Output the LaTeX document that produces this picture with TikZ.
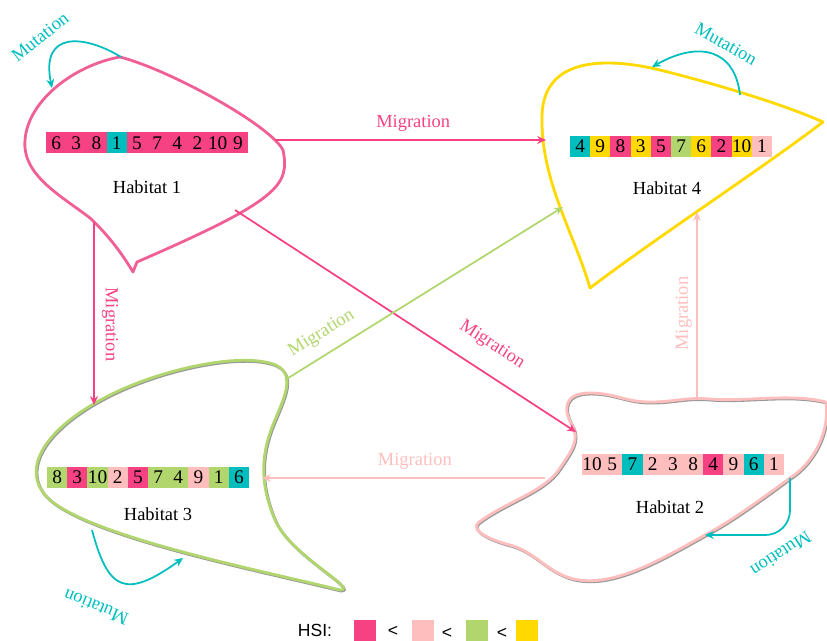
\documentclass[tikz,border=0pt]{standalone}
\usepackage{fontspec}
\setmainfont{Liberation Serif}
\newfontfamily\hsifont{Liberation Sans}
\usetikzlibrary{arrows.meta}

\definecolor{hsipink}{RGB}{246,66,130}
\definecolor{hsilight}{RGB}{255,190,190}
\definecolor{hsigreen}{RGB}{178,214,110}
\definecolor{hsiyellow}{RGB}{255,217,0}
\definecolor{mutcolor}{RGB}{0,190,190}
\definecolor{habitatpink}{RGB}{240,96,150}

\newcommand{\genestrip}[4]{%
    \foreach \val/\col [count=\i] in {#4}
        \node[gen, fill=\col] (#1-\i) at ({#2+(\i-0.5)*20.2}, #3) {\val};
}

\begin{document}
\begin{tikzpicture}[
    x=0.02cm,
    y=-0.02cm,
    font=\fontsize{10.5}{12}\selectfont,
    gen/.style={
        minimum width=0.404cm,
        minimum height=0.42cm,
        inner sep=0pt,
        font=\fontsize{11}{12}\selectfont
    },
    habitat/.style={line width=1.6pt, line join=round},
    shadowed/.style={
        preaction={draw=black!40, line width=1.6pt,
            transform canvas={shift={(0.5pt,-0.6pt)}}}
    },
    migra/.style={-{Stealth[length=5pt,width=4.5pt]}, line width=1pt},
    mut/.style={-{Stealth[length=5pt,width=4.5pt]}, line width=1pt, draw=mutcolor},
    muttxt/.style={text=mutcolor},
    swatch/.style={minimum width=0.44cm, minimum height=0.42cm, inner sep=0pt}
]
    \useasboundingbox (0,0) rectangle (827,641);

    \draw[habitat, draw=habitatpink] (133,272)
        .. controls (120,250) and (105,232) .. (90,218)
        .. controls (60,195) and (22,175) .. (25,140)
        .. controls (28,100) and (75,65) .. (120,57)
        .. controls (170,70) and (270,125) .. (283,150)
        .. controls (290,185) and (280,200) .. (137,262)
        -- cycle;
    \draw[habitat, draw=hsiyellow] (590,288)
        .. controls (575,235) and (540,180) .. (542,115)
        .. controls (544,55) and (610,58) .. (660,70)
        .. controls (720,85) and (785,105) .. (823,122)
        .. controls (760,170) and (660,235) .. (590,288)
        -- cycle;
    \draw[habitat, shadowed, draw=hsigreen] (340,590)
        .. controls (260,570) and (80,535) .. (45,495)
        .. controls (20,465) and (50,425) .. (110,395)
        .. controls (160,370) and (230,355) .. (265,362)
        .. controls (300,368) and (285,395) .. (275,420)
        .. controls (262,450) and (258,480) .. (275,520)
        .. controls (290,555) and (360,590) .. (340,590)
        -- cycle;
    \draw[habitat, shadowed, draw=hsilight] (478,523)
        .. controls (505,502) and (545,492) .. (560,468)
        .. controls (572,450) and (580,440) .. (572,425)
        .. controls (562,408) and (565,393) .. (590,393)
        .. controls (615,393) and (625,402) .. (650,402)
        .. controls (675,402) and (685,397) .. (710,399)
        .. controls (745,402) and (790,393) .. (826,402)
        .. controls (830,430) and (815,462) .. (790,478)
        .. controls (760,500) and (730,522) .. (705,535)
        .. controls (660,560) and (610,590) .. (570,578)
        .. controls (545,570) and (535,552) .. (510,545)
        .. controls (490,540) and (470,530) .. (478,523)
        -- cycle;

    \genestrip{gen1}{46}{143}{6/hsipink,3/hsipink,8/hsipink,1/mutcolor,5/hsipink,7/hsipink,4/hsipink,2/hsipink,10/hsipink,9/hsipink}
    \genestrip{gen4}{570}{146.5}{4/mutcolor,9/hsiyellow,8/hsipink,3/hsiyellow,5/hsipink,7/hsigreen,6/hsiyellow,2/hsipink,10/hsiyellow,1/hsilight}
    \genestrip{gen3}{47}{477.5}{8/hsigreen,3/hsipink,10/hsigreen,2/hsilight,5/hsipink,7/hsigreen,4/hsigreen,9/hsilight,1/hsigreen,6/mutcolor}
    \genestrip{gen2}{582}{464.5}{10/hsilight,5/hsilight,7/mutcolor,2/hsilight,3/hsilight,8/hsilight,4/hsipink,9/hsilight,6/mutcolor,1/hsilight}

    \node (habitat1) at (147,187) {Habitat 1};
    \node (habitat4) at (667,188) {Habitat 4};
    \node (habitat3) at (158,514) {Habitat 3};
    \node (habitat2) at (670,507) {Habitat 2};

    \coordinate (h1-east) at (275,140);
    \coordinate (h1-south) at (94,222);
    \coordinate (h1-se) at (235,210);
    \coordinate (h4-west) at (546,140);
    \coordinate (h4-sw) at (563,207);
    \coordinate (h4-south) at (697,212);
    \coordinate (h3-north) at (94,405);
    \coordinate (h3-ne) at (285,380);
    \coordinate (h3-east) at (262,478);
    \coordinate (h2-nw) at (576,432);
    \coordinate (h2-west) at (545,478);
    \coordinate (h2-north) at (697,400);

    \draw[migra, hsipink] (h1-east) -- node[pos=0.51, above=1pt] {Migration} (h4-west);
    \draw[migra, hsipink] (h1-south) -- node[pos=0.56, rotate=-90, anchor=south, inner sep=4pt] {Migration} (h3-north);
    \draw[migra, hsipink] (h1-se) -- node[pos=0.71, sloped, above=7pt] {Migration} (h2-nw);
    \draw[migra, hsigreen] (h3-ne) -- node[pos=0.17, sloped, above=3pt] {Migration} (h4-sw);
    \draw[migra, hsilight] (h2-west) -- node[pos=0.46, above=1pt] {Migration} (h3-east);
    \draw[migra, hsilight] (h2-north) -- node[pos=0.46, rotate=90, anchor=south, inner sep=2.5pt] {Migration} (h4-south);

    \coordinate (mut1-from) at (121,57);
    \coordinate (mut1-to) at (52,88);
    \coordinate (mut4-from) at (740,95);
    \coordinate (mut4-to) at (652,67);
    \coordinate (mut2-from) at (790,478);
    \coordinate (mut2-to) at (705,535);
    \coordinate (mut3-from) at (92,530);
    \coordinate (mut3-to) at (183,558);

    \draw[mut] (mut1-from) .. controls (85,35) and (40,30) .. (mut1-to);
    \draw[mut] (mut4-from) .. controls (735,50) and (700,40) .. (mut4-to);
    \draw[mut, rounded corners=14pt] (mut2-from) |- (mut2-to);
    \draw[mut] (mut3-from) .. controls (108,590) and (125,600) .. (mut3-to);

    \node[muttxt, rotate=39] (mutation1) at (40,37) {Mutation};
    \node[muttxt, rotate=-29] (mutation4) at (726,44) {Mutation};
    \node[muttxt, rotate=-147] (mutation2) at (781,554) {Mutation};
    \node[muttxt, rotate=158] (mutation3) at (96,607) {Mutation};

    \node[font=\hsifont\fontsize{10}{12}\selectfont] (hsi) at (315,630) {HSI:};
    \node[swatch, fill=hsipink] (swatch1) at (365,630.5) {};
    \node[font=\hsifont] (less1) at (393,631) {<};
    \node[swatch, fill=hsilight] (swatch2) at (422.5,630.5) {};
    \node[font=\hsifont] (less2) at (447,633) {<};
    \node[swatch, fill=hsigreen] (swatch3) at (476.5,630.5) {};
    \node[font=\hsifont] (less3) at (502,633) {<};
    \node[swatch, fill=hsiyellow] (swatch4) at (526.5,630.5) {};
\end{tikzpicture}
\end{document}
